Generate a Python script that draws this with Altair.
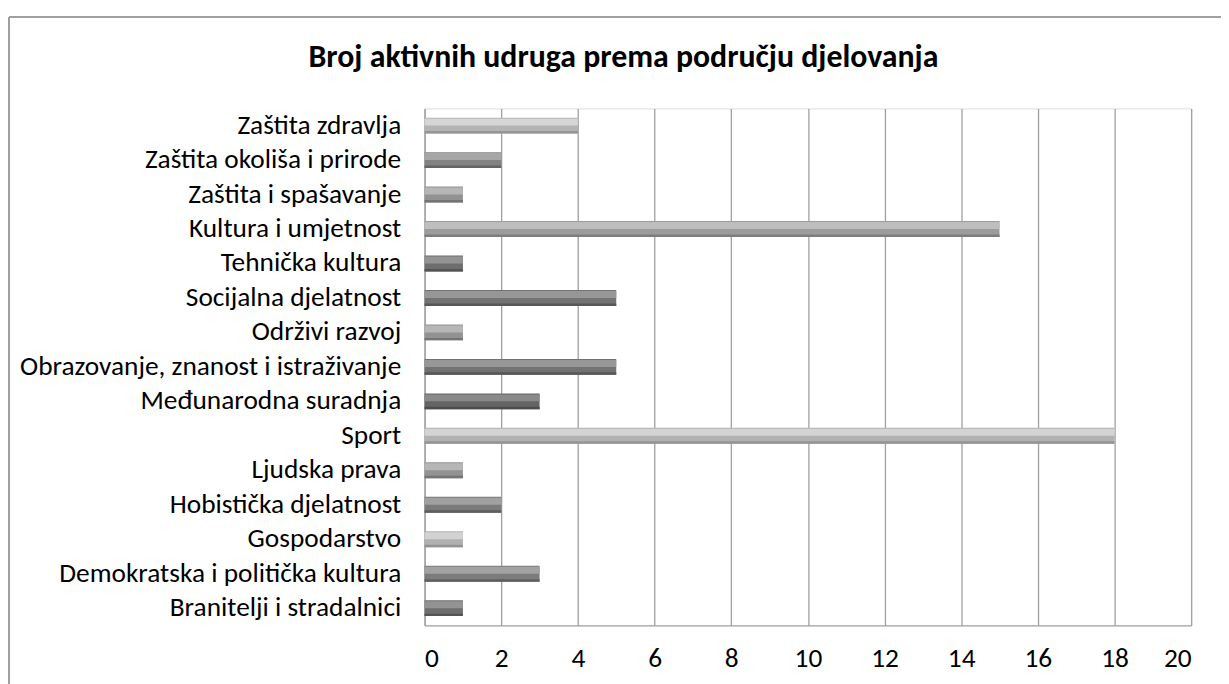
import altair as alt
import pandas as pd

categories = [
    "Zaštita zdravlja",
    "Zaštita okoliša i prirode",
    "Zaštita i spašavanje",
    "Kultura i umjetnost",
    "Tehnička kultura",
    "Socijalna djelatnost",
    "Održivi razvoj",
    "Obrazovanje, znanost i istraživanje",
    "Međunarodna suradnja",
    "Sport",
    "Ljudska prava",
    "Hobistička djelatnost",
    "Gospodarstvo",
    "Demokratska i politička kultura",
    "Branitelji i stradalnici",
]
values = [4, 2, 1, 15, 1, 5, 1, 5, 3, 18, 1, 2, 1, 3, 1]

base_colors = ["#b4b4b4", "#828282", "#929292", "#9c9c9c", "#6e6e6e", "#727272", "#929292",
               "#727272", "#646464", "#b2b2b2", "#929292", "#7a7a7a", "#b0b0b0", "#7c7c7c", "#6e6e6e"]
light_colors = ["#d6d6d6", "#a6a6a6", "#b6b6b6", "#bebebe", "#939393", "#979797", "#b6b6b6",
                "#979797", "#8a8a8a", "#d4d4d4", "#b6b6b6", "#a0a0a0", "#d2d2d2", "#a2a2a2", "#939393"]
dark_colors = ["#959595", "#646464", "#747474", "#7e7e7e", "#545454", "#575757", "#747474",
               "#575757", "#4c4c4c", "#949494", "#747474", "#5e5e5e", "#929292", "#606060", "#545454"]

title_text = "Broj aktivnih udruga prema području djelovanja"
x_ticks = list(range(0, 21, 2))

df = pd.DataFrame({"cat": categories, "val": values})
title_df = pd.DataFrame({"t": [title_text]})

FONT = "Carlito, Calibri, Lato, sans-serif"
W, H = 771, 520

y_enc = alt.Y("cat:N", sort=categories, title=None,
              scale=alt.Scale(paddingInner=0.54, paddingOuter=0.27),
              axis=alt.Axis(labelFont=FONT, labelFontSize=27.5, labelColor="#000000",
                            labelPadding=24, ticks=False, domain=True,
                            domainColor="#a6a6a6", domainWidth=1.3, grid=False,
                            labelLimit=600))
x_enc = alt.X("val:Q", title=None,
              scale=alt.Scale(domain=[0, 20], nice=False),
              axis=alt.Axis(values=x_ticks, labelFont=FONT, labelFontSize=27.5,
                            labelColor="#000000", labelPadding=19, ticks=False,
                            domainColor="#a6a6a6", domainWidth=1.3,
                            grid=True, gridColor="#a0a0a0", gridWidth=1.3))

base = alt.Chart(df)

bars = base.mark_bar(size=16, cornerRadius=0).encode(
    x=x_enc, y=y_enc,
    color=alt.Color("cat:N", scale=alt.Scale(domain=categories, range=base_colors), legend=None),
)
hi = base.mark_bar(size=7, yOffset=-3.5).encode(
    x=alt.X("val:Q"), y=alt.Y("cat:N", sort=categories),
    color=alt.Color("cat:N", scale=alt.Scale(domain=categories, range=light_colors), legend=None),
)
lo = base.mark_bar(size=2.5, yOffset=6.75).encode(
    x=alt.X("val:Q"), y=alt.Y("cat:N", sort=categories),
    color=alt.Color("cat:N", scale=alt.Scale(domain=categories, range=dark_colors), legend=None),
)

frame_left = alt.Chart(df).mark_rule(color="#a0a0a0", strokeWidth=1.5).encode(
    x=alt.value(-418), y=alt.value(-92), y2=alt.value(H + 80))
frame_top = alt.Chart(df).mark_rule(color="#a0a0a0", strokeWidth=1.5).encode(
    x=alt.value(-418), x2=alt.value(W + 60), y=alt.value(-92))

title = alt.Chart(title_df).mark_text(
    font=FONT, fontSize=32, fontWeight="bold", color="#000000",
    align="center", baseline="alphabetic"
).encode(text="t:N", x=alt.value(200), y=alt.value(-42))

chart = alt.layer(bars, hi, lo, frame_left, frame_top, title).resolve_scale(
    color="independent"
).properties(
    width=W, height=H,
    autosize=alt.AutoSizeParams(type="none"),
    padding={"left": 419, "top": 99, "right": 30, "bottom": 60},
).configure_view(stroke=None).configure(background="white")

chart.save("out.html", embed_options={"renderer": "svg", "actions": False})
